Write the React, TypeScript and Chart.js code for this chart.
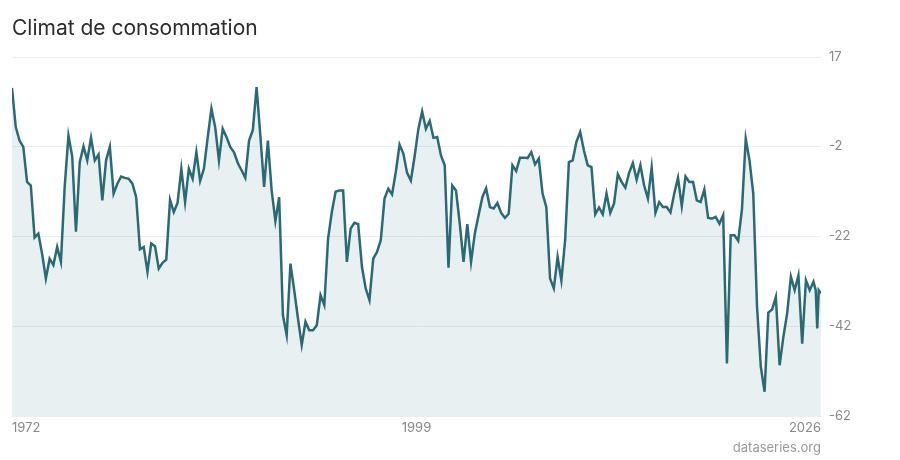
import React, { useEffect, useRef } from "react";
import { Chart, registerables } from "chart.js";

Chart.register(...registerables);

const chartTitle = "Climat de consommation";
const sourceLabel = "dataseries.org";
const startYear = 1972;

// Quarterly values from 1972 Q1
const quarterlyValues = [
  11.0, 2.3, -0.7, -2.1, -9.9, -10.7, -22.3, -21.4, -25.9, -31.4,
  -27.0, -28.4, -24.4, -27.7, -11.0, 0.4, -4.2, -21.0, -5.5, -2.0,
  -5.1, -0.1, -5.1, -3.8, -14.0, -5.1, -2.1, -12.5, -10.3, -8.7,
  -9.0, -9.2, -10.3, -13.3, -24.9, -24.4, -29.9, -23.6, -24.2, -29.2,
  -27.9, -27.2, -13.9, -16.6, -14.6, -7.0, -14.4, -7.0, -9.2, -3.3,
  -9.7, -7.0, -0.1, 6.4, 2.3, -5.1, 1.9, 0.1, -2.1, -3.3,
  -5.7, -7.3, -9.0, -0.7, 1.6, 11.2, 0.4, -11.0, -0.7, -11.8,
  -18.6, -13.3, -39.6, -44.0, -28.1, -34.0, -40.3, -46.2, -41.0, -42.9,
  -42.9, -41.8, -35.1, -37.3, -22.5, -16.6, -12.1, -11.8, -11.8, -27.7,
  -20.3, -19.0, -19.3, -28.8, -33.6, -36.2, -27.0, -25.5, -22.9, -13.6,
  -11.4, -12.7, -7.7, -1.6, -3.6, -7.9, -9.6, -4.2, 1.9, 5.8,
  1.9, 3.7, -0.1, 0.1, -4.0, -6.2, -29.0, -10.7, -11.8, -19.2,
  -27.7, -19.3, -27.7, -21.4, -17.3, -13.3, -11.3, -15.5, -15.8, -14.6,
  -16.8, -17.9, -17.0, -6.2, -7.5, -4.5, -4.5, -4.6, -3.3, -6.0,
  -4.7, -12.5, -15.5, -31.4, -33.6, -26.6, -31.8, -22.9, -5.5, -5.1,
  -1.0, 1.2, -2.9, -6.2, -6.6, -17.1, -15.6, -17.1, -12.5, -16.8,
  -14.7, -8.2, -9.9, -11.2, -7.9, -5.7, -9.4, -6.2, -10.7, -13.6,
  -6.7, -16.8, -14.4, -15.5, -15.5, -16.7, -12.5, -9.0, -15.3, -8.7,
  -9.9, -9.9, -14.0, -14.4, -11.6, -17.9, -18.1, -17.7, -19.2, -17.3,
  -50.3, -21.8, -21.8, -23.0, -15.9, -0.3, -5.1, -12.5, -37.7, -51.0,
  -56.6, -39.0, -38.3, -35.5, -50.7, -44.4, -39.2, -31.0, -34.0, -30.7,
  -45.9, -31.8, -34.0, -32.1,
];

// Most recent (closer-spaced) observations
const tailDates = [2025.4, 2025.5, 2025.6, 2025.75];
const tailValues = [-34.0, -42.5, -34.0, -34.7];

const xTickValues = [1972, 1998.875, 2025.75];
const xTickLabels = ["1972", "1999", "2026"];
const yTickValues = [-62, -42, -22, -2, 17.85];
const yTickLabels = ["-62", "-42", "-22", "-2", "17"];

export default function App() {
  const ref = useRef<HTMLCanvasElement>(null);

  useEffect(() => {
    if (!ref.current) return;
    const points = quarterlyValues
      .map((v, i) => ({ x: startYear + i / 4, y: v }))
      .concat(tailDates.map((d, i) => ({ x: d, y: tailValues[i] })));

    const sourcePlugin = {
      id: "sourceLabel",
      afterDraw(chart: any) {
        const { ctx, chartArea } = chart;
        ctx.save();
        ctx.font = "13px Inter";
        ctx.fillStyle = "#9a9a9a";
        ctx.textAlign = "right";
        ctx.textBaseline = "middle";
        ctx.fillText(sourceLabel, chartArea.right, 448);
        ctx.restore();
      },
    };

    const chart = new Chart(ref.current, {
      type: "line",
      data: {
        datasets: [
          {
            data: points,
            borderColor: "#2b6a74",
            backgroundColor: "rgba(43,106,116,0.1)",
            fill: "start",
            borderWidth: 2.5,
            pointRadius: 0,
            tension: 0,
          },
        ],
      },
      options: {
        animation: false,
        responsive: false,
        layout: { padding: { left: 12, right: 0, top: 0, bottom: 24 } },
        plugins: {
          legend: { display: false },
          tooltip: { enabled: false },
          title: {
            display: true,
            text: chartTitle,
            align: "start",
            color: "#2b2b2b",
            font: { family: "Inter", size: 21, weight: "normal" },
            padding: { top: 16, bottom: 16 },
          },
        },
        scales: {
          x: {
            type: "linear",
            min: 1972,
            max: 2025.75,
            afterBuildTicks: (s: any) => {
              s.ticks = xTickValues.map((v) => ({ value: v }));
            },
            afterFit: (s: any) => {
              s.height = 20;
            },
            ticks: {
              callback: (_v: any, i: number) => xTickLabels[i],
              align: "inner",
              maxRotation: 0,
              autoSkip: false,
              color: "#888888",
              font: { family: "Inter", size: 13 },
              padding: 4,
            },
            grid: { display: false, drawTicks: false },
            border: { display: false },
          },
          y: {
            position: "right",
            min: -62,
            max: 17.85,
            afterBuildTicks: (s: any) => {
              s.ticks = yTickValues.map((v) => ({ value: v }));
            },
            afterFit: (s: any) => {
              s.width = 79;
            },
            ticks: {
              callback: (_v: any, i: number) => yTickLabels[i],
              color: "#888888",
              font: { family: "Inter", size: 13 },
              padding: 8,
            },
            grid: { color: "#eeeeee", drawTicks: false },
            border: { display: false },
          },
        },
      },
      plugins: [sourcePlugin],
    } as any);

    return () => chart.destroy();
  }, []);

  return (
    <div style={{ position: "absolute", left: 0, top: 0, width: 900, height: 460, background: "#fff" }}>
      <canvas ref={ref} width={900} height={460} />
    </div>
  );
}
